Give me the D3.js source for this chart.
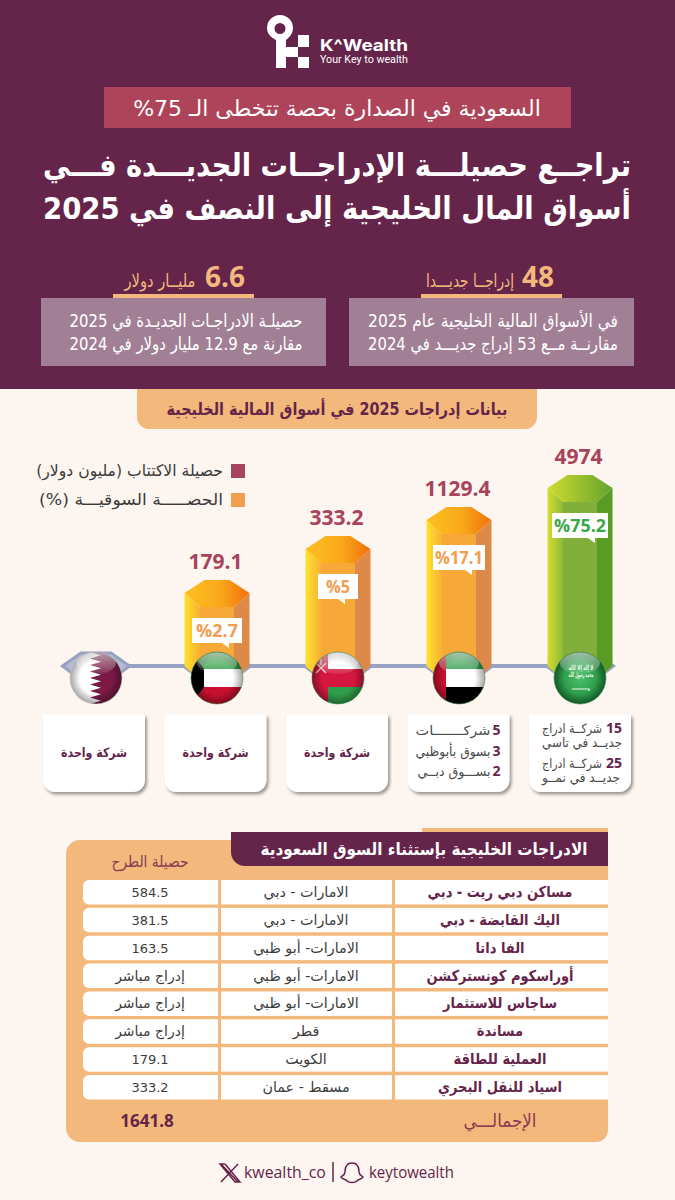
<!DOCTYPE html>
<html lang="ar">
<head>
<meta charset="utf-8">
<script src="https://cdn.jsdelivr.net/npm/d3@7"></script>
<style>
html, body { margin: 0; padding: 0; background: #fdf5ef; }
svg { display: block; }
text { font-family: "DejaVu Sans", sans-serif; }
</style>
</head>
<body>
<div id="chart-area"></div>
<script>
// chart data
const markets = ['qatar', 'kuwait', 'oman', 'uae', 'saudi']
const proceeds = [null, '179.1', '333.2', '1129.4', '4974']
const shares = [0, 2.7, 5, 17.1, 75.2]
const shareLabels = [null, '%2.7', '%5', '%17.1', '%75.2']

const companies = ['مساكن دبي ريت - دبي', 'اليك القابضة - دبي', 'الفا داتا', 'أوراسكوم كونستركشن', 'ساجاس للاستثمار', 'مساندة', 'العملية للطاقة', 'اسياد للنقل البحري']
const locations = ['الامارات - دبي', 'الامارات - دبي', 'الامارات- أبو ظبي', 'الامارات- أبو ظبي', 'الامارات- أبو ظبي', 'قطر', 'الكويت', 'مسقط - عمان']
const raised = ['584.5', '381.5', '163.5', 'إدراج مباشر', 'إدراج مباشر', 'إدراج مباشر', '179.1', '333.2']

const PLUM = '#65244a'
const SAND = '#f3b97c'
const ROSE = '#a8435c'
const PAPER = '#fdf5ef'
const STEEL = '#98a2c2'

const svg = d3.select('#chart-area').append('svg')
    .attr('width', 675)
    .attr('height', 1200)
    .attr('viewBox', '0 0 675 1200')

const defs = svg.append('defs')

const gradient = function(id, stops, x2 = 1, y2 = 0) {
    const grad = defs.append('linearGradient').attr('id', id)
        .attr('x1', 0).attr('y1', 0).attr('x2', x2).attr('y2', y2)
    stops.forEach(s => grad.append('stop').attr('offset', s[0]).attr('stop-color', s[1]))
}
gradient('orangeTop', [[0, '#fdc01f'], [0.55, '#f9a81a'], [1, '#f0700c']])
gradient('orangeLeft', [[0, '#ffe22e'], [1, '#f8b033']])
gradient('greenTop', [[0, '#cfdc2e'], [1, '#64a32e']])
gradient('greenLeft', [[0, '#d3de2e'], [1, '#8fb93a']])

const shadow = defs.append('filter').attr('id', 'cardShadow')
    .attr('x', '-10%').attr('y', '-10%').attr('width', '125%').attr('height', '125%')
shadow.append('feDropShadow').attr('dx', 2).attr('dy', 2.5).attr('stdDeviation', 1.6)
    .attr('flood-color', '#6b6060').attr('flood-opacity', 0.65)

const edge = defs.append('radialGradient').attr('id', 'flagEdge')
edge.append('stop').attr('offset', 0.62).attr('stop-color', '#000').attr('stop-opacity', 0)
edge.append('stop').attr('offset', 1).attr('stop-color', '#000').attr('stop-opacity', 0.35)
const gloss = defs.append('linearGradient').attr('id', 'flagGloss')
    .attr('x1', 0).attr('y1', 0).attr('x2', 0).attr('y2', 1)
gloss.append('stop').attr('offset', 0).attr('stop-color', '#fff').attr('stop-opacity', 0.6)
gloss.append('stop').attr('offset', 1).attr('stop-color', '#fff').attr('stop-opacity', 0.08)
const saudiGlow = defs.append('radialGradient').attr('id', 'saudiGlow')
saudiGlow.append('stop').attr('offset', 0).attr('stop-color', '#4cc06a')
saudiGlow.append('stop').attr('offset', 1).attr('stop-color', '#1f8a3c')

defs.append('clipPath').attr('id', 'flagClip').append('circle').attr('r', 26)

// text helper, w squeezes the line to the width it has in the picture
const label = function(parent, s, x, y, o = {}) {
    const t = parent.append('text')
        .attr('x', x)
        .attr('y', y)
        .attr('text-anchor', o.anchor || 'middle')
        .attr('direction', o.ltr ? 'ltr' : 'rtl')
        .attr('font-size', o.size || 14)
        .attr('font-weight', o.weight || 400)
        .attr('fill', o.fill || '#333')
        .text(s)
    if (o.family) t.style('font-family', o.family)
    if (o.w || o.sx) {
        const sx = o.sx || o.w / t.node().getComputedTextLength()
        t.attr('transform', `translate(${x},0) scale(${sx},1) translate(${-x},0)`)
    }
    return t
}

// header
svg.append('rect').attr('width', 675).attr('height', 1200).attr('fill', PAPER)
svg.append('rect').attr('width', 675).attr('height', 389).attr('fill', PLUM)

const logo = svg.append('g').attr('fill', '#fff')
logo.append('path')
    .attr('fill-rule', 'evenodd')
    .attr('d', 'M276 40 C270 37 267 33 267 28 A13 13 0 0 1 293 28 C293 33 290 37 286 40 L286 68 L276 68 Z M280 23 A5.5 5.5 0 1 0 280 34 A5.5 5.5 0 1 0 280 23 Z')
logo.append('rect').attr('x', 298).attr('y', 35).attr('width', 11).attr('height', 12)
logo.append('rect').attr('x', 286).attr('y', 47).attr('width', 12).attr('height', 10)
logo.append('rect').attr('x', 298).attr('y', 57).attr('width', 11).attr('height', 11)
label(svg, 'K^Wealth', 320, 51, {ltr: true, anchor: 'start', size: 16, weight: 700, fill: '#fff', w: 88, family: 'Inter'})
label(svg, 'Your Key to wealth', 320, 63, {ltr: true, anchor: 'start', size: 11, fill: '#fff', w: 88, family: 'Roboto'})

svg.append('rect').attr('x', 104).attr('y', 87).attr('width', 467).attr('height', 41).attr('fill', '#ae4459')
label(svg, 'السعودية في الصدارة بحصة تتخطى الـ \u2066%75\u2069', 337, 116, {size: 22, fill: '#fff', w: 408})

label(svg, 'تراجــع حصيلـــة الإدراجــات الجديـــدة فـــي', 337, 176, {size: 31, weight: 700, fill: '#fff', w: 588})
label(svg, 'أسواق المال الخليجية إلى النصف في 2025', 337, 219, {size: 31, weight: 700, fill: '#fff', w: 588})

// two headline figures
const stat = function(boxX, barX, big, bigX, unit, unitX, unitW, textX, textW, line1, line2) {
    svg.append('rect').attr('x', boxX).attr('y', 298).attr('width', 285).attr('height', 68).attr('fill', '#a18095')
    svg.append('rect').attr('x', barX).attr('y', 294).attr('width', 141).attr('height', 4).attr('fill', SAND)
    label(svg, big, bigX, 287, {ltr: true, size: 28, weight: 700, fill: SAND, family: 'Open Sans'})
    label(svg, unit, unitX, 287, {size: 18, fill: SAND, w: unitW})
    label(svg, line1, textX, 327, {size: 18, fill: '#fff', w: textW})
    label(svg, line2, textX, 350, {size: 18, fill: '#fff', w: textW})
}
stat(349, 421, '48', 538, 'إدراجــا جديـــدا', 470, 88, 493, 250, 'في الأسواق المالية الخليجية عام 2025', 'مقارنــة مــع 53 إدراج جديـــد في 2024')
stat(41, 113, '6.6', 225, 'مليــار دولار', 160, 71, 186, 233, 'حصيلـة الادراجـات الجديـدة في 2025', 'مقارنة مع 12.9 مليار دولار في 2024')

// section tab
svg.append('path')
    .attr('d', 'M137 389 H537 V417 A12 12 0 0 1 525 429 H149 A12 12 0 0 1 137 417 Z')
    .attr('fill', SAND)
label(svg, 'بيانات إدراجات 2025 في أسواق المالية الخليجية', 337, 415, {size: 17, weight: 700, fill: PLUM, w: 341})

// legend
svg.append('rect').attr('x', 231).attr('y', 464).attr('width', 14).attr('height', 14).attr('fill', ROSE)
svg.append('rect').attr('x', 231).attr('y', 493).attr('width', 14).attr('height', 14).attr('fill', '#f19d50')
label(svg, 'حصيلة الاكتتاب (مليون دولار)', 223, 476, {anchor: 'start', size: 16, fill: '#3a3a3a', w: 187})
label(svg, 'الحصـــــة السوقيـــة (%)', 223, 505, {anchor: 'start', size: 16, fill: '#3a3a3a', w: 184})

// bars, the heights in the picture are not proportional so the scale is piecewise
const BASE = 666
const xScale = d3.scalePoint().domain(markets).range([96, 580])
const xCard = d3.scalePoint().domain(markets).range([94, 580])
const yScale = d3.scaleLinear().domain([0, 2.7, 5, 17.1, 75.2]).range([652, 580, 536, 507, 475])

svg.append('line')
    .attr('x1', xScale('qatar')).attr('x2', xScale('saudi'))
    .attr('y1', BASE).attr('y2', BASE)
    .attr('stroke', STEEL).attr('stroke-width', 4)

const points = arr => arr.map(p => p.join(',')).join(' ')

const bars = svg.selectAll('.bar')
    .data(markets)
    .enter().append('g')
    .attr('class', 'bar')
    .attr('transform', d => `translate(${xScale(d)},0)`)

bars.append('polygon')
    .attr('points', points([[-33.5, BASE], [-15, 653], [15, 653], [33.5, BASE], [15, 680], [-15, 680]]))
    .attr('fill', '#b4bcd5')
    .attr('stroke', STEEL)
    .attr('stroke-width', 3)

const drawBar = function(g, top, green) {
    const W = 32.5, F = 17
    const left = [[-W, top + 13], [-F, top + 27], [-F, BASE + 14], [-W, BASE]]
    const right = [[W, top + 13], [F, top + 27], [F, BASE + 14], [W, BASE]]
    const front = [[-F, top + 27], [F, top + 27], [F, BASE + 14], [-F, BASE + 14]]
    const cap = [[-12.5, top], [12.5, top], [W, top + 13], [F, top + 27], [-F, top + 27], [-W, top + 13]]
    g.append('polygon').attr('points', points(left)).attr('fill', green ? 'url(#greenLeft)' : 'url(#orangeLeft)')
    g.append('polygon').attr('points', points(right)).attr('fill', green ? '#589b25' : '#dd8a48')
    g.append('polygon').attr('points', points(front)).attr('fill', green ? '#82ae3c' : '#f6a938')
    g.append('polygon').attr('points', points(cap)).attr('fill', green ? 'url(#greenTop)' : 'url(#orangeTop)')
}

bars.each(function(d, i) {
    if (shares[i] > 0) drawBar(d3.select(this), yScale(shares[i]), d === 'saudi')
})

// value above each bar and the share bubble on it
bars.filter((d, i) => proceeds[i] !== null)
    .append('text')
    .attr('x', -1.5)
    .attr('y', d => yScale(shares[markets.indexOf(d)]) - 11)
    .attr('text-anchor', 'middle')
    .attr('font-size', 21)
    .attr('font-weight', 700)
    .attr('fill', ROSE)
    .style('font-family', 'Open Sans')
    .text(d => proceeds[markets.indexOf(d)])

const bubbleWidths = {kuwait: 50, oman: 40, uae: 52, saudi: 56}
const bubbleTexts = {kuwait: 42, oman: 24, uae: 48, saudi: 52}
bars.filter((d, i) => proceeds[i] !== null).each(function(d) {
    const i = markets.indexOf(d)
    const g = d3.select(this)
    const top = yScale(shares[i]) + 38
    const w = bubbleWidths[d]
    const tail = w / 2 - 13
    g.append('path')
        .attr('d', `M${-w / 2} ${top} H${w / 2} V${top + 25} H${tail} V${top + 30} L${tail - 7} ${top + 25} H${-w / 2} Z`)
        .attr('fill', '#fff')
    label(g, shareLabels[i], 0, top + 19, {ltr: true, size: 18, weight: 700, fill: d === 'saudi' ? '#3aa648' : '#f19d50', w: bubbleTexts[d], family: 'Open Sans'})
})

// flags
const band = function(g, x, y, w, h, fill) {
    g.append('rect').attr('x', x).attr('y', y).attr('width', w).attr('height', h).attr('fill', fill)
}
const flagDraw = {
    qatar: g => {
        band(g, -26, -26, 52, 52, '#7a1a45')
        const teeth = []
        const n = 8
        for (let k = 0; k < n; k++) {
            const a = -26 + 52 * k / n
            teeth.push([-6, a], [5, a + 26 / n])
        }
        g.append('polygon')
            .attr('points', points([[-26, -26], ...teeth, [-6, 26], [-26, 26]]))
            .attr('fill', '#fff')
    },
    kuwait: g => {
        band(g, -26, -26, 52, 17, '#2f9e44')
        band(g, -26, -9, 52, 18, '#fff')
        band(g, -26, 9, 52, 17, '#c8102e')
        g.append('polygon').attr('points', points([[-26, -26], [-13, -9], [-13, 9], [-26, 26]])).attr('fill', '#000')
    },
    oman: g => {
        band(g, -26, -26, 52, 17, '#fff')
        band(g, -26, -9, 52, 18, '#d5173f')
        band(g, -26, 9, 52, 17, '#2e9e4a')
        band(g, -26, -26, 16, 52, '#d5173f')
        g.append('path').attr('d', 'M-22 -15 L-12 -5 M-12 -15 L-22 -5 M-17 -19 V-13')
            .attr('stroke', '#f6c9cf').attr('stroke-width', 1.5).attr('fill', 'none')
    },
    uae: g => {
        band(g, -26, -26, 52, 17, '#2f9e4a')
        band(g, -26, -9, 52, 18, '#fff')
        band(g, -26, 9, 52, 17, '#000')
        band(g, -26, -26, 13, 52, '#c8102e')
    },
    saudi: g => {
        g.append('circle').attr('r', 26).attr('fill', 'url(#saudiGlow)')
        label(g, 'لا إله إلا الله', 1, -8, {size: 7, weight: 700, fill: '#e9f7e6', w: 25})
        label(g, 'محمد رسول الله', 1, -1, {size: 7, weight: 700, fill: '#e9f7e6', w: 25})
        g.append('path').attr('d', 'M-8 11 H9 V13').attr('stroke', '#eef8ea').attr('stroke-width', 1.2).attr('fill', 'none')
    }
}

const flags = svg.selectAll('.flag')
    .data(markets)
    .enter().append('g')
    .attr('class', 'flag')
    .attr('transform', d => `translate(${xScale(d)},678)`)

flags.each(function(d) {
    const g = d3.select(this)
    const inner = g.append('g').attr('clip-path', 'url(#flagClip)')
    flagDraw[d](inner)
    inner.append('circle').attr('r', 26).attr('fill', 'url(#flagEdge)')
    inner.append('ellipse').attr('cy', -15).attr('rx', 20).attr('ry', 11).attr('fill', 'url(#flagGloss)')
    g.append('circle').attr('r', 26).attr('fill', 'none').attr('stroke', d === 'qatar' ? '#ccc' : '#2d7a3e').attr('stroke-opacity', 0.55)
})

// cards under the flags
const cards = svg.selectAll('.card')
    .data(markets)
    .enter().append('g')
    .attr('class', 'card')
    .attr('transform', d => `translate(${xCard(d) - 51},714)`)

cards.append('path')
    .attr('d', 'M3 0 H99 A3 3 0 0 1 102 3 V66 A12 12 0 0 1 90 78 H12 A12 12 0 0 1 0 66 V3 A3 3 0 0 1 3 0 Z')
    .attr('fill', '#fff')
    .attr('filter', 'url(#cardShadow)')

cards.filter(d => ['qatar', 'kuwait', 'oman'].includes(d)).each(function() {
    label(d3.select(this), 'شركة واحدة', 51, 43, {size: 13, weight: 700, fill: PLUM, w: 66})
})

const cardLine = function(market, y, num, rest, right, w) {
    const g = cards.filter(d => d === market)
    if (num) label(g, num, 93, y, {ltr: true, anchor: 'end', size: 14, weight: 700, fill: PLUM, family: 'Open Sans'})
    label(g, rest, right, y, {anchor: 'start', size: 13, fill: '#4a4a4a', w: w})
}
cardLine('uae', 21, '5', 'شركـــــــات', 83, 75)
cardLine('uae', 42, '3', 'بسوق بأبوظبي', 83, 75)
cardLine('uae', 62, '2', 'بســـوق دبــي', 83, 73)
cardLine('saudi', 19, '15', 'شركــة ادراج', 73, 60)
cardLine('saudi', 33, null, 'جديــد في تاسي', 93, 80)
cardLine('saudi', 54, '25', 'شركــة ادراج', 73, 60)
cardLine('saudi', 68, null, 'جديــد في نمــو', 91, 78)

// table
svg.append('path')
    .attr('d', 'M80 840 H608 V1130 A12 12 0 0 1 596 1142 H80 A14 14 0 0 1 66 1128 V854 A14 14 0 0 1 80 840 Z')
    .attr('fill', SAND)
svg.append('rect').attr('x', 422).attr('y', 828).attr('width', 186).attr('height', 5).attr('fill', SAND)
svg.append('path')
    .attr('d', 'M231 832 H608 V866 H245 A14 14 0 0 1 231 852 Z')
    .attr('fill', PLUM)
label(svg, 'الادراجات الخليجية بإستثناء السوق السعودية', 424, 855, {size: 17, weight: 700, fill: '#fff', w: 327})
label(svg, 'حصيلة الطرح', 150, 867, {size: 16, fill: '#8a3a50', w: 77})

const yRow = d3.scaleBand().domain(d3.range(companies.length)).range([880, 1099.5]).paddingInner(0.125)
const columns = [
    {x: 83, w: 135, cx: 150},
    {x: 221, w: 171, cx: 306},
    {x: 395, w: 213, cx: 500}
]

const rows = svg.selectAll('.row')
    .data(companies)
    .enter().append('g')
    .attr('class', 'row')
    .attr('transform', (d, i) => `translate(0,${yRow(i)})`)

rows.append('path')
    .attr('d', `M${columns[0].x + 6} 0 H${columns[0].x + columns[0].w} V${yRow.bandwidth()} H${columns[0].x + 6} A6 6 0 0 1 ${columns[0].x} ${yRow.bandwidth() - 6} V6 A6 6 0 0 1 ${columns[0].x + 6} 0 Z`)
    .attr('fill', '#fff')
columns.slice(1).forEach(c => {
    rows.append('rect').attr('x', c.x).attr('width', c.w).attr('height', yRow.bandwidth()).attr('fill', '#fff')
})

rows.each(function(d, i) {
    const g = d3.select(this)
    label(g, d, columns[2].cx, 17, {size: 15, sx: 0.87, weight: 700, fill: PLUM})
    label(g, locations[i], columns[1].cx, 17, {size: 14.3, fill: '#3c3c3c'})
    label(g, raised[i], columns[0].cx, 17, {size: /\d/.test(raised[i]) ? 13 : 14, fill: '#3c3c3c'})
})

label(svg, 'الإجمالـــي', 500, 1127, {size: 18, fill: '#8a3a50', w: 73})
label(svg, '1641.8', 147, 1127, {ltr: true, size: 17, weight: 700, fill: PLUM, family: 'Open Sans'})

// footer
svg.append('path')
    .attr('d', 'M221 1164 L238 1182 M225 1164 H220 L235 1182 H240 L225 1164 M238 1164 L221 1182')
    .attr('stroke', PLUM).attr('stroke-width', 1.5).attr('fill', 'none')
label(svg, 'kwealth_co', 244, 1178, {ltr: true, anchor: 'start', size: 17, fill: PLUM, w: 82, family: 'Open Sans'})
svg.append('line').attr('x1', 333).attr('x2', 333).attr('y1', 1162).attr('y2', 1182).attr('stroke', PLUM).attr('stroke-width', 1.5)
svg.append('path')
    .attr('d', 'M352 1163 C347 1163 345 1167 345 1172 C345 1175 342 1176 341 1177 C343 1180 346 1179 347 1181 C349 1183 355 1183 357 1181 C358 1179 361 1180 363 1177 C362 1176 359 1175 359 1172 C359 1167 357 1163 352 1163 Z')
    .attr('stroke', PLUM).attr('stroke-width', 1.5).attr('fill', 'none')
label(svg, 'keytowealth', 369, 1178, {ltr: true, anchor: 'start', size: 17, fill: PLUM, w: 85, family: 'Open Sans'})
</script>
</body>
</html>
